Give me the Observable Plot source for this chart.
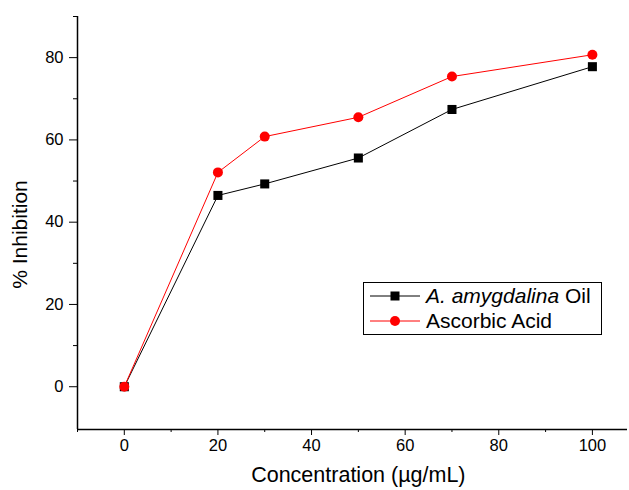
<!DOCTYPE html>
<html>
<head>
<meta charset="utf-8">
<script src="https://cdn.jsdelivr.net/npm/d3@7"></script>
<script src="https://cdn.jsdelivr.net/npm/@observablehq/plot@0.6"></script>
<style>
  html, body { margin: 0; padding: 0; background: #fff; }
  #wrap { position: relative; width: 629px; height: 490px; font-family: "Liberation Sans", Arial, sans-serif; }
  #legend { position: absolute; left: 363px; top: 282px; width: 237px; height: 51px; border: 1px solid #000; background: #fff; font-size: 21px; }
  .row { position: absolute; left: 0; height: 24px; line-height: 24px; display: flex; align-items: center; white-space: nowrap; }
  .row svg { margin-left: 6px; margin-right: 6px; }
</style>
</head>
<body>
<div id="wrap"></div>
<script>
const concentration = [0, 20, 30, 50, 70, 100];
const oilValues = [0, 46.5, 49.3, 55.6, 67.4, 77.8];
const ascorbicValues = [0, 52.1, 60.8, 65.5, 75.4, 80.7];
const seriesNames = ["A. amygdalina Oil", "Ascorbic Acid"];
const seriesColors = ["#000000", "#ff0000"];
const xTicks = [0, 20, 40, 60, 80, 100];
const xMinor = [-10, 10, 30, 50, 70, 90];
const yTicks = [0, 20, 40, 60, 80];
const yMinor = [10, 30, 50, 70, 90];
const xTitle = "Concentration (µg/mL)";
const yTitle = "% Inhibition";

const oil = concentration.map((c, i) => ({x: c, y: oilValues[i]}));
const asc = concentration.map((c, i) => ({x: c, y: ascorbicValues[i]}));

const chart = Plot.plot({
  width: 629,
  height: 490,
  marginLeft: 77,
  marginRight: 2,
  marginTop: 16,
  marginBottom: 61,
  style: {fontFamily: "'Liberation Sans', Arial, sans-serif", fontSize: "16px", background: "white", color: "black"},
  x: {domain: [-10, 107.5]},
  y: {domain: [-10.4, 90]},
  marks: [
    Plot.axisX({ticks: xTicks, tickSize: 6, label: null, tickFormat: () => ""}),
    Plot.axisX({ticks: xMinor, tickSize: 3, label: null, tickFormat: () => ""}),
    Plot.axisY({ticks: yTicks, tickSize: 8, label: null, tickFormat: () => ""}),
    Plot.axisY({ticks: yMinor, tickSize: 4, label: null, tickFormat: () => ""}),
    Plot.text(xTicks, {x: d => d, frameAnchor: "bottom", lineAnchor: "top", dy: 10, text: d => String(d), fontSize: 16.5}),
    Plot.text(yTicks, {y: d => d, frameAnchor: "left", textAnchor: "end", dx: -14, text: d => String(d), fontSize: 16.5}),
    Plot.ruleX([-10], {stroke: "black", strokeWidth: 1.5}),
    Plot.ruleY([-10.4], {stroke: "black", strokeWidth: 1.5}),
    Plot.line(oil, {x: "x", y: "y", stroke: seriesColors[0], strokeWidth: 1}),
    Plot.dot(oil, {x: "x", y: "y", symbol: "square", r: 5.1, fill: seriesColors[0], stroke: "none"}),
    Plot.line(asc, {x: "x", y: "y", stroke: seriesColors[1], strokeWidth: 1}),
    Plot.dot(asc, {x: "x", y: "y", symbol: "circle", r: 5, fill: seriesColors[1], stroke: "none"}),
    Plot.text([xTitle], {x: 50, frameAnchor: "bottom", dy: 52, fontSize: 21.5, textAnchor: "middle"}),
    Plot.text([yTitle], {y: 37, frameAnchor: "left", dx: -57, rotate: -90, fontSize: 21, textAnchor: "middle"})
  ]
});

const wrap = document.getElementById("wrap");
wrap.appendChild(chart);

const legend = document.createElement("div");
legend.id = "legend";
const symbols = ["square", "circle"];
seriesNames.forEach((name, i) => {
  const row = document.createElement("div");
  row.className = "row";
  row.style.top = (i === 0 ? 1 : 26) + "px";
  const s = d3.create("svg").attr("width", 50).attr("height", 14);
  s.append("line").attr("x1", 0).attr("x2", 50).attr("y1", 7).attr("y2", 7).attr("stroke", seriesColors[i]).attr("stroke-width", 1);
  if (symbols[i] === "square") {
    s.append("rect").attr("x", 20.5).attr("y", 2.5).attr("width", 9).attr("height", 9).attr("fill", seriesColors[i]);
  } else {
    s.append("circle").attr("cx", 25).attr("cy", 7).attr("r", 5).attr("fill", seriesColors[i]);
  }
  row.appendChild(s.node());
  const label = document.createElement("span");
  if (i === 0) {
    label.innerHTML = "<i>A. amygdalina</i> Oil";
  } else {
    label.textContent = name;
  }
  row.appendChild(label);
  legend.appendChild(row);
});
wrap.appendChild(legend);
</script>
</body>
</html>
